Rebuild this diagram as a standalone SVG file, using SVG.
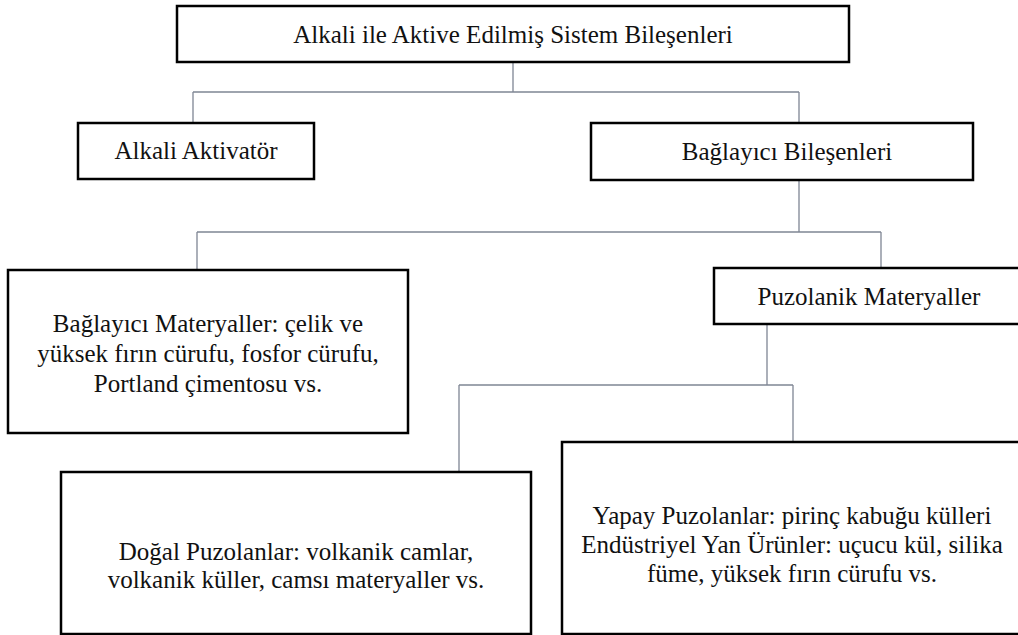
<svg xmlns="http://www.w3.org/2000/svg" width="1018" height="635" viewBox="0 0 1018 635">
<style>
.box{fill:#fff;stroke:#000;stroke-width:2.5}
.lbl{font-family:"Liberation Serif","Times New Roman",serif;font-size:25px;fill:#111;text-anchor:middle}
.con{fill:none;stroke:#7f8694;stroke-width:1.3}
</style>
<rect width="1018" height="635" fill="#fff"/>
<g id="connectors">
<path class="con" d="M513 62V92M193 92H799M193 92V123M799 92V123"/>
<path class="con" d="M799 180V232M197 232H881M197 232V270M881 232V268"/>
<path class="con" d="M767 324V385M459 385H793M459 385V472M793 385V442"/>
</g>
<g id="root">
<rect class="box" x="177" y="6" width="672" height="56"/>
<text class="lbl" x="513" y="43">Alkali ile Aktive Edilmiş Sistem Bileşenleri</text>
</g>
<g id="alkali-aktivator">
<rect class="box" x="78" y="123" width="236" height="56"/>
<text class="lbl" x="196" y="159">Alkali Aktivatör</text>
</g>
<g id="baglayici-bilesenleri">
<rect class="box" x="591" y="123" width="382" height="57"/>
<text class="lbl" x="787" y="160">Bağlayıcı Bileşenleri</text>
</g>
<g id="baglayici-materyaller">
<rect class="box" x="8" y="270" width="400" height="163"/>
<text class="lbl" x="208" y="332">Bağlayıcı Materyaller: çelik ve</text>
<text class="lbl" x="208" y="362">yüksek fırın cürufu, fosfor cürufu,</text>
<text class="lbl" x="208" y="392">Portland çimentosu vs.</text>
</g>
<g id="puzolanik-materyaller">
<rect class="box" x="714" y="268" width="310" height="56"/>
<text class="lbl" x="869" y="305">Puzolanik Materyaller</text>
</g>
<g id="dogal-puzolanlar">
<rect class="box" x="61" y="472" width="470" height="162"/>
<text class="lbl" x="296" y="560">Doğal Puzolanlar: volkanik camlar,</text>
<text class="lbl" x="296" y="588">volkanik küller, camsı materyaller vs.</text>
</g>
<g id="yapay-puzolanlar">
<rect class="box" x="562" y="442" width="462" height="192"/>
<text class="lbl" x="792" y="524">Yapay Puzolanlar: pirinç kabuğu külleri</text>
<text class="lbl" x="792" y="553">Endüstriyel Yan Ürünler: uçucu kül, silika</text>
<text class="lbl" x="792" y="582">füme, yüksek fırın cürufu vs.</text>
</g>
</svg>
